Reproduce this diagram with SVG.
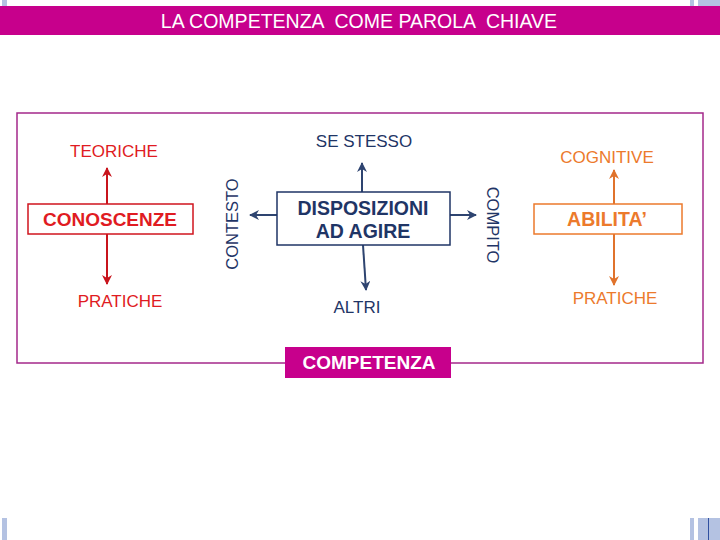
<svg xmlns="http://www.w3.org/2000/svg" width="720" height="540" viewBox="0 0 720 540">
<style>
text{font-family:"Liberation Sans",Arial,sans-serif}
.nv{fill:#1F3566}
.rd{fill:#E01B22}
.or{fill:#EC7A2C}
.b{font-weight:bold}
</style>
<defs>
<marker id="an" viewBox="0 0 10 10" refX="9" refY="5" markerWidth="5" markerHeight="5" orient="auto"><path d="M0,0 L10,5 L0,10 L3,5 z" fill="#2E4470"/></marker>
<marker id="ar" viewBox="0 0 10 10" refX="9" refY="5" markerWidth="5" markerHeight="5" orient="auto"><path d="M0,0 L10,5 L0,10 L3,5 z" fill="#C8141C"/></marker>
<marker id="ao" viewBox="0 0 10 10" refX="9" refY="5" markerWidth="5" markerHeight="5" orient="auto"><path d="M0,0 L10,5 L0,10 L3,5 z" fill="#E0732C"/></marker>
</defs>
<rect width="720" height="540" fill="#fff"/>
<g id="corners" fill="#B4C2E2">
<rect x="2" y="0" width="5" height="6"/>
<rect x="690" y="0" width="4" height="6"/>
<rect x="698" y="0" width="22" height="6"/>
<rect x="2" y="518" width="5" height="22"/>
<rect x="690" y="518" width="4" height="22"/>
<rect x="698" y="518" width="22" height="22"/>
<rect x="708" y="518" width="1" height="22" fill="#3050A0"/>
</g>
<g id="header">
<rect x="0" y="6" width="720" height="29" fill="#C7008C"/>
<text x="359" y="28" text-anchor="middle" fill="#fff" font-size="21" xml:space="preserve" transform="translate(359 0) scale(0.93 1) translate(-359 0)">LA COMPETENZA  COME PAROLA  CHIAVE</text>
</g>
<rect id="frame" x="17" y="113" width="686" height="250" fill="none" stroke="#A4288A" stroke-width="1.5"/>
<g id="connectors" stroke-width="2" fill="none">
<line x1="107" y1="204" x2="107" y2="168" stroke="#C8141C" marker-end="url(#ar)"/>
<line x1="107" y1="234" x2="107" y2="284" stroke="#C8141C" marker-end="url(#ar)"/>
<line x1="614" y1="204" x2="614" y2="170" stroke="#E0732C" marker-end="url(#ao)"/>
<line x1="614" y1="234" x2="614" y2="285" stroke="#E0732C" marker-end="url(#ao)"/>
<line x1="362" y1="192" x2="362" y2="163" stroke="#2E4470" marker-end="url(#an)"/>
<line x1="363" y1="245" x2="366" y2="290" stroke="#2E4470" marker-end="url(#an)"/>
<line x1="277" y1="215" x2="250" y2="215" stroke="#2E4470" marker-end="url(#an)"/>
<line x1="450" y1="215" x2="476" y2="215" stroke="#2E4470" marker-end="url(#an)"/>
</g>
<g id="conoscenze">
<rect x="28" y="204" width="165" height="30" fill="#fff" stroke="#D0141E" stroke-width="1.5"/>
<text x="110" y="226" text-anchor="middle" font-size="19" class="rd b">CONOSCENZE</text>
</g>
<g id="teoriche"><text x="114" y="157" text-anchor="middle" font-size="17" class="rd">TEORICHE</text></g>
<g id="pratiche1"><text x="120" y="307" text-anchor="middle" font-size="17" class="rd">PRATICHE</text></g>
<g id="disposizioni">
<rect x="277" y="192" width="173" height="53" fill="#fff" stroke="#1F3566" stroke-width="1.5"/>
<text x="363" y="215" text-anchor="middle" font-size="19.5" class="nv b">DISPOSIZIONI</text>
<text x="363" y="238" text-anchor="middle" font-size="19.5" class="nv b">AD AGIRE</text>
</g>
<g id="sestesso"><text x="364" y="147" text-anchor="middle" font-size="17" class="nv">SE STESSO</text></g>
<g id="altri"><text x="357" y="313" text-anchor="middle" font-size="17" class="nv">ALTRI</text></g>
<g id="contesto"><text x="0" y="0" text-anchor="middle" font-size="16.5" class="nv" transform="translate(238 224) rotate(-90)">CONTESTO</text></g>
<g id="compito"><text x="0" y="0" text-anchor="middle" font-size="16.5" class="nv" transform="translate(487 225) rotate(90)">COMPITO</text></g>
<g id="abilita">
<rect x="534" y="204" width="148" height="30" fill="#fff" stroke="#EC7A2C" stroke-width="1.5"/>
<text x="607" y="226" text-anchor="middle" font-size="19.5" class="or b">ABILITA’</text>
</g>
<g id="cognitive"><text x="607" y="163" text-anchor="middle" font-size="17" class="or">COGNITIVE</text></g>
<g id="pratiche2"><text x="615" y="304" text-anchor="middle" font-size="17" class="or">PRATICHE</text></g>
<g id="competenza">
<rect x="285" y="347" width="166" height="31" fill="#C7008C"/>
<text x="369" y="369" text-anchor="middle" font-size="19" fill="#fff" class="b">COMPETENZA</text>
</g>
</svg>
